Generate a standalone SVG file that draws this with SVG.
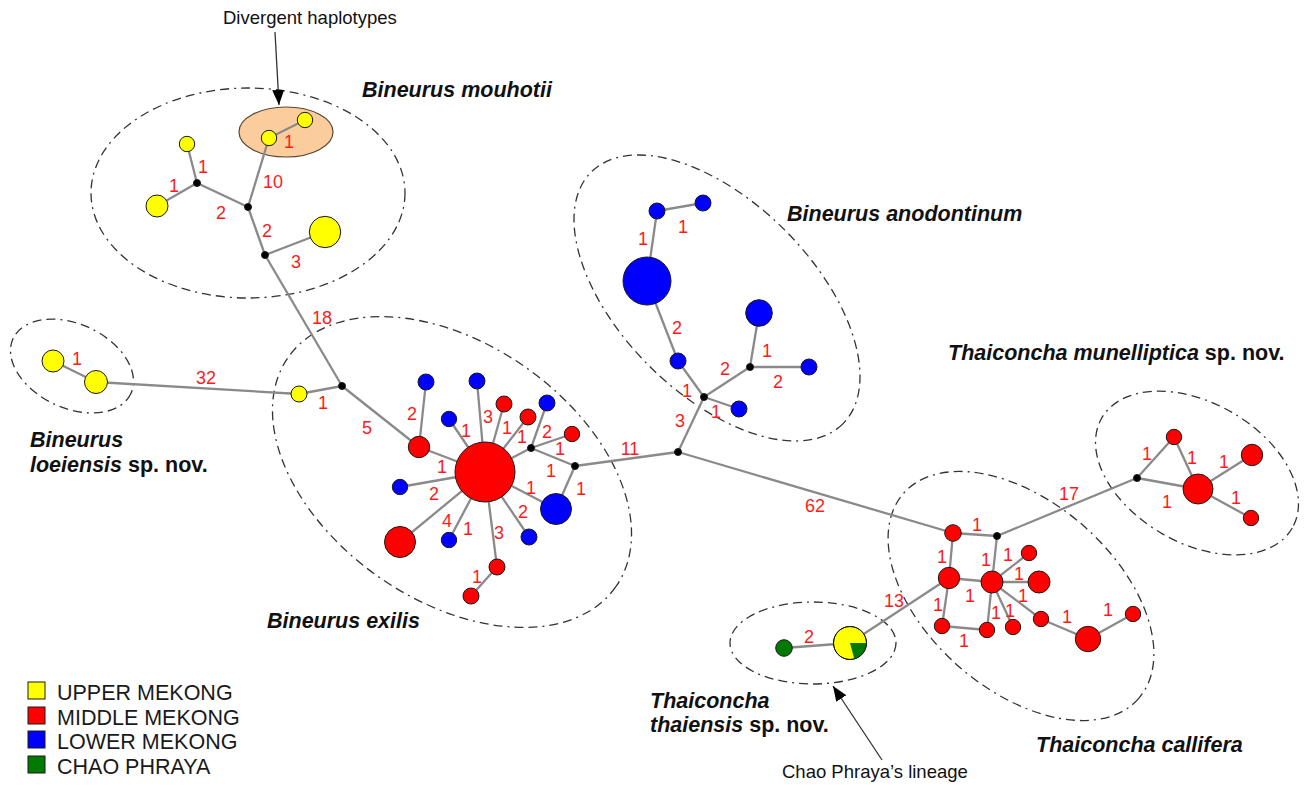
<svg xmlns="http://www.w3.org/2000/svg" width="1308" height="787" viewBox="0 0 1308 787">
<defs>
<style>
.grp{fill:none;stroke:#333;stroke-width:1.3;stroke-dasharray:9 5 2 5 9 5}
.edge line{stroke:#8a8a8a;stroke-width:2.3}
.hap{stroke:#1a1a1a;stroke-width:1}
.y{fill:#ffff00}.r{fill:#ff0000}.b{fill:#0000ff}.g{fill:#007a00}.j{fill:#000}
.lbl text{font-family:"Liberation Sans",Arial,sans-serif;font-size:18px;fill:#ff1a1a;text-anchor:middle}
.title{font-family:"Liberation Sans",Arial,sans-serif;font-size:21.5px;font-weight:bold;font-style:italic;fill:#111}
.note{font-family:"Liberation Sans",Arial,sans-serif;font-size:18.5px;fill:#111}
.leg{font-family:"Liberation Sans",Arial,sans-serif;font-size:21.5px;fill:#1a1a1a}
.arrow{stroke:#333;stroke-width:1.3;fill:none}
</style>
<marker id="ah" markerUnits="userSpaceOnUse" markerWidth="16" markerHeight="12" refX="15" refY="6" orient="auto">
<path d="M0,0 L15,6 L0,12 Z" fill="#000"/>
</marker>
</defs>
<rect width="1308" height="787" fill="#fff"/>

<g id="groups">
<ellipse class="grp" cx="248" cy="193" rx="157" ry="105"/>
<ellipse class="grp" cx="72" cy="366" rx="65" ry="42" transform="rotate(25 72 366)"/>
<ellipse class="grp" cx="452" cy="472" rx="200" ry="128" transform="rotate(35 452 472)"/>
<ellipse class="grp" cx="717" cy="298" rx="178" ry="96" transform="rotate(45 717 298)"/>
<ellipse class="grp" cx="1197" cy="473" rx="110" ry="70" transform="rotate(30 1197 473)"/>
<ellipse class="grp" cx="1021" cy="596" rx="156" ry="94" transform="rotate(41 1021 596)"/>
<ellipse class="grp" cx="813" cy="643" rx="83" ry="41"/>
<ellipse id="divergent" cx="286" cy="132" rx="47" ry="25" fill="#fbcd9c" stroke="#5a4632" stroke-width="1.2"/>
</g>

<g id="connectors" class="edge">
<line x1="269" y1="138" x2="305" y2="120"/>
<line x1="269" y1="138" x2="248" y2="207"/>
<line x1="197" y1="183" x2="187" y2="144"/>
<line x1="197" y1="183" x2="157" y2="206"/>
<line x1="197" y1="183" x2="248" y2="207"/>
<line x1="248" y1="207" x2="265" y2="255"/>
<line x1="265" y1="255" x2="325" y2="232"/>
<line x1="265" y1="255" x2="342" y2="386"/>
<line x1="53" y1="361" x2="96" y2="382"/>
<line x1="96" y1="382" x2="299" y2="394"/>
<line x1="299" y1="394" x2="342" y2="386"/>
<line x1="342" y1="386" x2="419" y2="447"/>
<line x1="419" y1="447" x2="426" y2="382"/>
<line x1="419" y1="447" x2="485" y2="472"/>
<line x1="485" y1="472" x2="477" y2="381"/>
<line x1="485" y1="472" x2="449" y2="419"/>
<line x1="485" y1="472" x2="504" y2="404"/>
<line x1="485" y1="472" x2="528" y2="417"/>
<line x1="485" y1="472" x2="531" y2="448"/>
<line x1="531" y1="448" x2="547" y2="403"/>
<line x1="531" y1="448" x2="572" y2="434"/>
<line x1="531" y1="448" x2="575" y2="466"/>
<line x1="575" y1="466" x2="556" y2="509"/>
<line x1="485" y1="472" x2="556" y2="509"/>
<line x1="485" y1="472" x2="400" y2="487"/>
<line x1="485" y1="472" x2="400" y2="542"/>
<line x1="485" y1="472" x2="449" y2="540"/>
<line x1="485" y1="472" x2="497" y2="567"/>
<line x1="497" y1="567" x2="471" y2="596"/>
<line x1="485" y1="472" x2="529" y2="537"/>
<line x1="575" y1="466" x2="678" y2="452"/>
<line x1="678" y1="452" x2="704" y2="397"/>
<line x1="704" y1="397" x2="678" y2="361"/>
<line x1="678" y1="361" x2="647" y2="281"/>
<line x1="647" y1="281" x2="657" y2="211"/>
<line x1="657" y1="211" x2="703" y2="203"/>
<line x1="704" y1="397" x2="739" y2="409"/>
<line x1="704" y1="397" x2="750" y2="367"/>
<line x1="750" y1="367" x2="759" y2="313"/>
<line x1="750" y1="367" x2="809" y2="367"/>
<line x1="678" y1="452" x2="953" y2="533"/>
<line x1="953" y1="533" x2="997" y2="536"/>
<line x1="953" y1="533" x2="949" y2="578"/>
<line x1="949" y1="578" x2="992" y2="582"/>
<line x1="949" y1="578" x2="942" y2="626"/>
<line x1="942" y1="626" x2="987" y2="630"/>
<line x1="987" y1="630" x2="992" y2="582"/>
<line x1="992" y1="582" x2="997" y2="536"/>
<line x1="992" y1="582" x2="1029" y2="553"/>
<line x1="992" y1="582" x2="1039" y2="582"/>
<line x1="992" y1="582" x2="1041" y2="619"/>
<line x1="992" y1="582" x2="1013" y2="627"/>
<line x1="1041" y1="619" x2="1088" y2="639"/>
<line x1="1088" y1="639" x2="1133" y2="614"/>
<line x1="949" y1="578" x2="850" y2="643"/>
<line x1="997" y1="536" x2="1137" y2="478"/>
<line x1="1137" y1="478" x2="1174" y2="437"/>
<line x1="1174" y1="437" x2="1198" y2="489"/>
<line x1="1137" y1="478" x2="1198" y2="489"/>
<line x1="1198" y1="489" x2="1252" y2="455"/>
<line x1="1198" y1="489" x2="1251" y2="518"/>
<line x1="784" y1="648" x2="850" y2="643"/>
</g>

<g id="annotations">
<line class="arrow" x1="275" y1="32" x2="279" y2="105" marker-end="url(#ah)"/>
<line class="arrow" x1="882" y1="760" x2="833" y2="686" marker-end="url(#ah)"/>
</g>

<g id="nodes" class="hap">
<g id="n-mA"><circle class="y" cx="269" cy="138" r="7.7"/></g>
<g id="n-mB"><circle class="y" cx="305" cy="120" r="7.7"/></g>
<g id="n-mTop"><circle class="y" cx="187" cy="144" r="7.7"/></g>
<g id="n-mLeft"><circle class="y" cx="157" cy="206" r="11"/></g>
<g id="n-mBig"><circle class="y" cx="325" cy="232" r="15.7"/></g>
<g id="j1"><circle class="j" cx="197" cy="183" r="3.5"/></g>
<g id="j2"><circle class="j" cx="248" cy="207" r="3.5"/></g>
<g id="j3"><circle class="j" cx="265" cy="255" r="3.5"/></g>
<g id="n-l1"><circle class="y" cx="53" cy="361" r="11"/></g>
<g id="n-l2"><circle class="y" cx="96" cy="382" r="11.5"/></g>
<g id="n-eY"><circle class="y" cx="299" cy="394" r="8"/></g>
<g id="j4"><circle class="j" cx="342" cy="386" r="3.5"/></g>
<g id="n-eR1"><circle class="r" cx="419" cy="447" r="10.7"/></g>
<g id="n-eC"><circle class="r" cx="485" cy="472" r="30"/></g>
<g id="n-eB1"><circle class="b" cx="426" cy="382" r="8"/></g>
<g id="n-eB2"><circle class="b" cx="477" cy="381" r="8"/></g>
<g id="n-eB3"><circle class="b" cx="449" cy="419" r="7.7"/></g>
<g id="n-eR2"><circle class="r" cx="504" cy="404" r="8"/></g>
<g id="n-eR3"><circle class="r" cx="528" cy="417" r="8"/></g>
<g id="n-eB4"><circle class="b" cx="547" cy="403" r="8"/></g>
<g id="n-eR4"><circle class="r" cx="572" cy="434" r="7.7"/></g>
<g id="j5"><circle class="j" cx="531" cy="448" r="3.5"/></g>
<g id="j6"><circle class="j" cx="575" cy="466" r="3.5"/></g>
<g id="n-eB5"><circle class="b" cx="556" cy="509" r="15.5"/></g>
<g id="n-eB6"><circle class="b" cx="400" cy="487" r="7.7"/></g>
<g id="n-eR5"><circle class="r" cx="400" cy="542" r="15.5"/></g>
<g id="n-eB7"><circle class="b" cx="449" cy="540" r="7.7"/></g>
<g id="n-eR6"><circle class="r" cx="497" cy="567" r="8"/></g>
<g id="n-eR7"><circle class="r" cx="471" cy="596" r="8"/></g>
<g id="n-eB8"><circle class="b" cx="529" cy="537" r="8"/></g>
<g id="j9"><circle class="j" cx="678" cy="452" r="3.5"/></g>
<g id="j7"><circle class="j" cx="704" cy="397" r="3.5"/></g>
<g id="j8"><circle class="j" cx="750" cy="367" r="3.5"/></g>
<g id="n-aB9"><circle class="b" cx="657" cy="211" r="8"/></g>
<g id="n-aB10"><circle class="b" cx="703" cy="203" r="8"/></g>
<g id="n-aB11"><circle class="b" cx="647" cy="281" r="24"/></g>
<g id="n-aB12"><circle class="b" cx="678" cy="361" r="8"/></g>
<g id="n-aB13"><circle class="b" cx="739" cy="409" r="8"/></g>
<g id="n-aB14"><circle class="b" cx="759" cy="313" r="13.3"/></g>
<g id="n-aB15"><circle class="b" cx="809" cy="367" r="8"/></g>
<g id="n-c1"><circle class="r" cx="953" cy="533" r="8.3"/></g>
<g id="j10"><circle class="j" cx="997" cy="536" r="3.5"/></g>
<g id="n-c2"><circle class="r" cx="949" cy="578" r="10.7"/></g>
<g id="n-c3"><circle class="r" cx="992" cy="582" r="11"/></g>
<g id="n-c4"><circle class="r" cx="1029" cy="553" r="7.7"/></g>
<g id="n-c5"><circle class="r" cx="1039" cy="582" r="11"/></g>
<g id="n-c6"><circle class="r" cx="1041" cy="619" r="7.7"/></g>
<g id="n-c7"><circle class="r" cx="1013" cy="627" r="7.7"/></g>
<g id="n-c8"><circle class="r" cx="987" cy="630" r="7.7"/></g>
<g id="n-c9"><circle class="r" cx="942" cy="626" r="7.7"/></g>
<g id="n-c10"><circle class="r" cx="1088" cy="639" r="12.7"/></g>
<g id="n-c11"><circle class="r" cx="1133" cy="614" r="7.7"/></g>
<g id="j11"><circle class="j" cx="1137" cy="478" r="3.5"/></g>
<g id="n-m1"><circle class="r" cx="1174" cy="437" r="7.7"/></g>
<g id="n-m2"><circle class="r" cx="1198" cy="489" r="15"/></g>
<g id="n-m3"><circle class="r" cx="1252" cy="455" r="10.7"/></g>
<g id="n-m4"><circle class="r" cx="1251" cy="518" r="7.7"/></g>
<g id="n-tG"><circle class="g" cx="784" cy="648" r="8.3"/></g>
<g id="n-tPie"><circle class="y" cx="850" cy="643" r="16.5"/><path class="g" d="M850,643 L866.5,643 A16.5,16.5 0 0 1 854.3,658.9 Z" stroke="none"/><circle cx="850" cy="643" r="16.5" fill="none"/></g>
</g>

<g id="edge-labels" class="lbl">
<text x="289" y="148">1</text>
<text x="273" y="188">10</text>
<text x="203" y="173">1</text>
<text x="174" y="192">1</text>
<text x="221" y="219">2</text>
<text x="267" y="237">2</text>
<text x="296" y="268">3</text>
<text x="322" y="324">18</text>
<text x="77" y="365">1</text>
<text x="206" y="384">32</text>
<text x="323" y="409">1</text>
<text x="367" y="434">5</text>
<text x="412" y="420">2</text>
<text x="442" y="473">1</text>
<text x="434" y="500">2</text>
<text x="447" y="527">4</text>
<text x="468" y="535">1</text>
<text x="499" y="539">3</text>
<text x="477" y="583">1</text>
<text x="523" y="518">2</text>
<text x="531" y="494">1</text>
<text x="581" y="495">1</text>
<text x="551" y="477">1</text>
<text x="560" y="455">1</text>
<text x="547" y="438">2</text>
<text x="522" y="443">1</text>
<text x="507" y="434">1</text>
<text x="488" y="423">3</text>
<text x="466" y="437">1</text>
<text x="630" y="455">11</text>
<text x="683" y="233">1</text>
<text x="643" y="245">1</text>
<text x="677" y="334">2</text>
<text x="687" y="397">1</text>
<text x="716" y="418">1</text>
<text x="725" y="375">2</text>
<text x="767" y="357">1</text>
<text x="778" y="388">2</text>
<text x="680" y="427">3</text>
<text x="815" y="512">62</text>
<text x="977" y="531">1</text>
<text x="942" y="563">1</text>
<text x="986" y="566">1</text>
<text x="1008" y="561">1</text>
<text x="1019" y="580">1</text>
<text x="1023" y="602">1</text>
<text x="970" y="602">1</text>
<text x="938" y="611">1</text>
<text x="996" y="619">1</text>
<text x="1010" y="617">1</text>
<text x="964" y="647">1</text>
<text x="1067" y="623">1</text>
<text x="1108" y="616">1</text>
<text x="894" y="607">13</text>
<text x="1069" y="500">17</text>
<text x="1147" y="460">1</text>
<text x="1192" y="464">1</text>
<text x="1224" y="468">1</text>
<text x="1167" y="508">1</text>
<text x="1236" y="504">1</text>
<text x="809" y="643">2</text>
</g>

<g id="titles">
<text class="note" x="223" y="24">Divergent haplotypes</text>
<text class="title" x="362" y="97">Bineurus mouhotii</text>
<text class="title" x="787" y="221">Bineurus anodontinum</text>
<text class="title" x="948" y="360">Thaiconcha munelliptica<tspan font-style="normal"> sp. nov.</tspan></text>
<text class="title" x="30" y="447">Bineurus</text>
<text class="title" x="30" y="472">loeiensis<tspan font-style="normal"> sp. nov.</tspan></text>
<text class="title" x="267" y="628">Bineurus exilis</text>
<text class="title" x="650" y="708">Thaiconcha</text>
<text class="title" x="650" y="732">thaiensis<tspan font-style="normal"> sp. nov.</tspan></text>
<text class="title" x="1036" y="752">Thaiconcha callifera</text>
<text class="note" x="782" y="778">Chao Phraya’s lineage</text>
</g>

<g id="legend">
<rect class="y hap" x="28" y="682" width="17" height="17"/>
<rect class="r hap" x="28" y="707" width="17" height="17"/>
<rect class="b hap" x="28" y="731" width="17" height="17"/>
<rect class="g hap" x="28" y="756" width="17" height="17"/>
<text class="leg" x="57" y="700">UPPER MEKONG</text>
<text class="leg" x="57" y="725">MIDDLE MEKONG</text>
<text class="leg" x="57" y="749">LOWER MEKONG</text>
<text class="leg" x="57" y="774">CHAO PHRAYA</text>
</g>
</svg>
